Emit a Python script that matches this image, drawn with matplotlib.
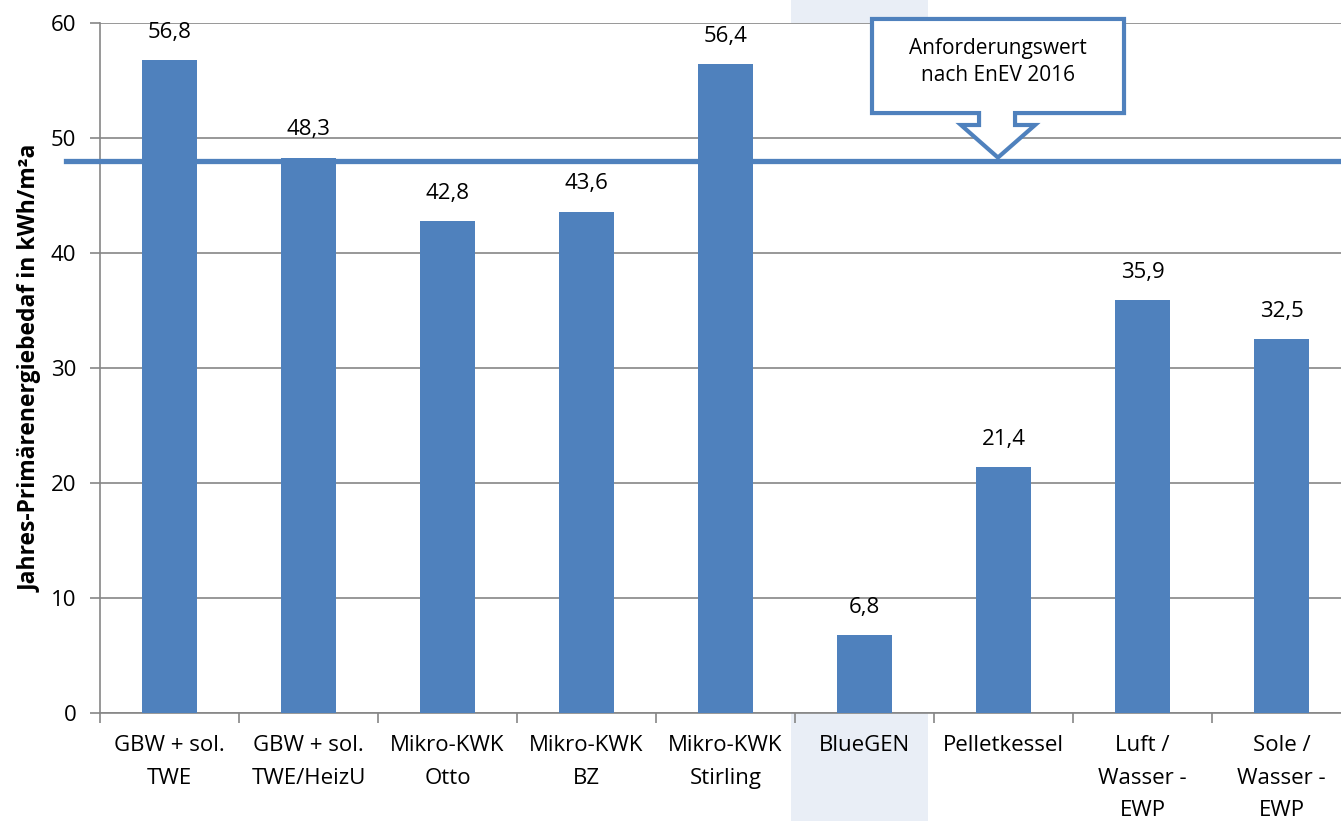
import numpy as np
import matplotlib.pyplot as plt
from matplotlib.patches import Rectangle, Polygon
from matplotlib.transforms import blended_transform_factory

plt.rcParams['font.family'] = ['Open Sans', 'DejaVu Sans']

# Daten
kategorien = ['GBW + sol.\nTWE', 'GBW + sol.\nTWE/HeizU', 'Mikro-KWK\nOtto', 'Mikro-KWK\nBZ',
              'Mikro-KWK\nStirling', 'BlueGEN', 'Pelletkessel', 'Luft /\nWasser -\nEWP',
              'Sole /\nWasser -\nEWP']
werte = [56.8, 48.3, 42.8, 43.6, 56.4, 6.8, 21.4, 35.9, 32.5]
anforderung = 48.0  # Anforderungswert nach EnEV 2016
hervorgehoben = 5  # BlueGEN

blau = '#4F81BD'
grau = '#868686'

fig = plt.figure(figsize=(13.41, 8.21), dpi=100)
ax = fig.add_axes([100 / 1341, 1 - 713 / 821, 1251 / 1341, 690 / 821])

x = np.arange(len(kategorien))
ax.bar(x, werte, width=0.4, color=blau, zorder=3)
ax.set_xlim(-0.5, len(kategorien) - 0.5)
ax.set_ylim(0, 60)
ax.set_yticks(np.arange(0, 61, 10))
ax.set_xticks(np.arange(len(kategorien) + 1) - 0.5, minor=True)
ax.set_xticks(x)
ax.set_xticklabels(kategorien, fontsize=16, linespacing=1.72, va='top')
ax.tick_params(axis='x', which='major', length=0, pad=16)
ax.tick_params(axis='x', which='minor', length=7, color=grau, width=1.2)
ax.tick_params(axis='y', length=7, color=grau, width=1.2, labelsize=16, pad=10)
ax.yaxis.grid(True, color=grau, linewidth=1.2, zorder=0)
ax.set_axisbelow(True)
for s in ['top', 'right']:
    ax.spines[s].set_visible(False)
ax.spines['left'].set_color(grau)
ax.spines['bottom'].set_color(grau)
ax.spines['left'].set_linewidth(1.2)
ax.spines['bottom'].set_linewidth(1.2)

ax.set_ylabel('Jahres-Primärenergiebedaf in kWh/m²a', fontsize=16.5, fontweight='bold', labelpad=6)

# Werte über den Balken
for xi, v in zip(x, werte):
    ax.annotate('{:.1f}'.format(v).replace('.', ','), (xi, v), xytext=(0, 20),
                textcoords='offset points', ha='center', va='center', fontsize=16)

# BlueGEN hinterlegt (über die ganze Bildhöhe)
tr = blended_transform_factory(ax.transData, fig.transFigure)
fig.patches.append(Rectangle((hervorgehoben - 0.53, 0), 0.99, 1, transform=tr,
                             facecolor='#E9EEF6', edgecolor='none', zorder=-1))

# Anforderungslinie
tr2 = blended_transform_factory(fig.transFigure, ax.transData)
ax.plot([66 / 1341, 1.0], [anforderung, anforderung], transform=tr2, color=blau,
        linewidth=3.8, clip_on=False, zorder=4)

# Pfeil-Callout
cx = 5.96
callout = [(5.054, 60.35), (6.867, 60.35), (6.867, 52.17), (6.083, 52.17), (6.083, 51.13),
           (6.227, 51.13), (cx, anforderung + 0.3), (5.694, 51.13), (5.824, 51.13),
           (5.824, 52.17), (5.054, 52.17)]
ax.add_patch(Polygon(callout, closed=True, facecolor='white', edgecolor=blau,
                     linewidth=3, joinstyle='miter', clip_on=False, zorder=5))
ax.text(cx, 56.6, 'Anforderungswert\nnach EnEV 2016', ha='center', va='center',
        fontsize=15, linespacing=1.35, zorder=6)

fig.savefig('out.png', dpi=100)
